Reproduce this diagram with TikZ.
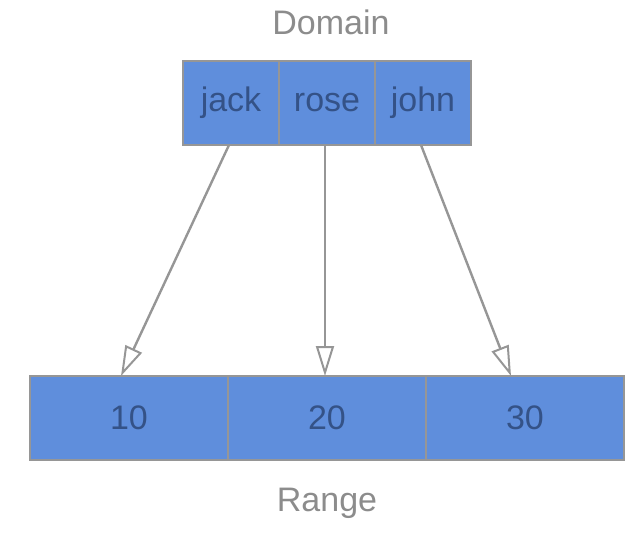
\documentclass[tikz,border=0pt]{standalone}
\usepackage{fontspec}
\setmainfont{Liberation Sans}
\usetikzlibrary{arrows.meta}
\definecolor{boxfill}{RGB}{95,142,220}
\definecolor{boxtext}{RGB}{52,82,135}
\definecolor{linegray}{RGB}{150,150,150}
\definecolor{labelgray}{RGB}{140,140,140}
\begin{document}
\begin{tikzpicture}[x=1pt,y=-1pt,
  cell/.style={draw=linegray,line width=2.6pt,fill=boxfill,text=boxtext,minimum height=84pt,inner sep=0pt,font=\fontsize{34}{40}\selectfont},
  small/.style={cell,minimum width=96pt},
  wide/.style={cell,minimum width=198pt},
  lbl/.style={text=labelgray,font=\fontsize{34}{40}\selectfont},
  conn/.style={draw=linegray,line width=2.4pt,-{Triangle[open,length=30pt,width=18pt,line width=2pt]}}]
\useasboundingbox (0,0) rectangle (638,536);
\node[small] (jack) at (231,103) {jack};
\node[small] (rose) at (327,103) {rose};
\node[small] (john) at (423,103) {john};
\node[wide] (r10) at (129,418) {10};
\node[wide] (r20) at (327,418) {20};
\node[wide] (r30) at (525,418) {30};
\node[lbl] (domain) at (331,22) {Domain};
\node[lbl] (range) at (327,503) {Range};
\coordinate (t10) at (121,376);
\coordinate (t20) at (325,376);
\coordinate (t30) at (511,376);
\draw[conn] (229,145) -- (t10);
\draw[conn] (rose.south -| t20) -- (t20);
\draw[conn] (421,145) -- (t30);
\end{tikzpicture}
\end{document}
